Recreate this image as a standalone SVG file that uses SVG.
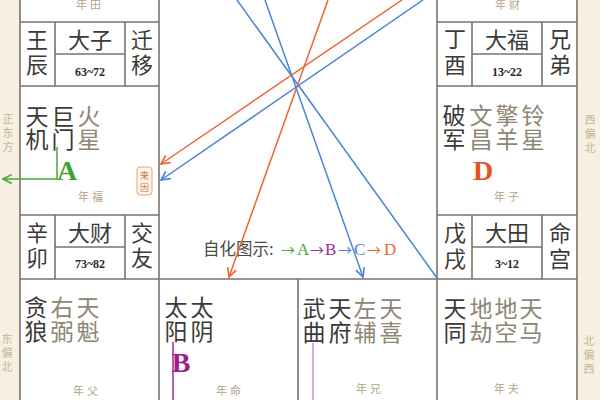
<svg xmlns="http://www.w3.org/2000/svg" width="600" height="400" viewBox="0 0 600 400">
<defs>
<style>
.grid{stroke:#77746a;stroke-width:1.6;fill:none}
.cj{font-family:"Noto Sans CJK SC","Noto Sans",sans-serif;text-anchor:middle}
.main{font-size:23px;fill:#3a3a38}
.sec{font-size:23px;fill:#8d8672}
.box{font-size:22px;fill:#3a3a38}
.num{font-family:"Liberation Serif",serif;font-weight:bold;font-size:12px;fill:#2a2a2a;text-anchor:middle}
.lab{font-size:11px;fill:#b3a488;letter-spacing:3px}
.dir{font-size:11px;fill:#c6b596}
.big{font-family:"Liberation Serif",serif;font-weight:bold;font-size:28px;text-anchor:middle}
.blue{stroke:#4a84d6;stroke-width:1.5;fill:none}
.orange{stroke:#ea6530;stroke-width:1.5;fill:none}
.arr{font-family:"Noto Sans CJK SC",sans-serif;font-size:14px}
.let{font-family:"Liberation Serif",serif;font-size:17px}
</style>
<marker id="ab" viewBox="0 0 10 10" refX="9" refY="5" markerWidth="11" markerHeight="11" markerUnits="userSpaceOnUse" orient="auto"><path d="M1,1 L9,5 L1,9" fill="none" stroke="#4a84d6" stroke-width="1.5"/></marker>
<marker id="ao" viewBox="0 0 10 10" refX="9" refY="5" markerWidth="11" markerHeight="11" markerUnits="userSpaceOnUse" orient="auto"><path d="M1,1 L9,5 L1,9" fill="none" stroke="#ea6530" stroke-width="1.5"/></marker>
<marker id="ag" viewBox="0 0 10 10" refX="9" refY="5" markerWidth="11" markerHeight="11" markerUnits="userSpaceOnUse" orient="auto"><path d="M1,1 L9,5 L1,9" fill="none" stroke="#4aa83a" stroke-width="1.5"/></marker>
</defs>
<rect x="0" y="0" width="600" height="400" fill="#f6efe2"/>
<rect x="20" y="0" width="557" height="400" fill="#ffffff"/>

<g id="grid">
<path class="grid" d="M20,0V400M159,0V400M437,0V400M577,0V400M298,279V400"/>
<path class="grid" d="M20,22H159M437,22H577M20,86H159M437,86H577M20,215H159M437,215H577M20,279H577"/>
<path class="grid" d="M55,22V86M125,22V86M55,215V279M125,215V279M472,22V86M542,22V86M472,215V279M542,215V279"/>
<path class="grid" d="M55,54H125M472,54H542M55,247H125M472,247H542"/>
</g>

<g id="directions" class="cj dir">
<text x="8" y="123">正</text><text x="8" y="137">东</text><text x="8" y="151">方</text>
<text x="7" y="343">东</text><text x="7" y="357">偏</text><text x="7" y="371">北</text>
<text x="590" y="124">西</text><text x="590" y="138">偏</text><text x="590" y="152">北</text>
<text x="589" y="345">北</text><text x="589" y="359">偏</text><text x="589" y="373">西</text>
</g>

<g id="palace-tian">
<text class="cj lab" x="90" y="9">年田</text>
<text class="cj box" x="37" y="48">王</text><text class="cj box" x="37" y="73">辰</text>
<text class="cj box" x="90" y="48">大子</text>
<text class="num" x="90" y="76">63~72</text>
<text class="cj box" x="142" y="48">迁</text><text class="cj box" x="142" y="73">移</text>
</g>

<g id="palace-cai">
<text class="cj lab" x="509" y="9">年财</text>
<text class="cj box" x="455" y="47">丁</text><text class="cj box" x="455" y="73">酉</text>
<text class="cj box" x="507" y="48">大福</text>
<text class="num" x="507" y="76">13~22</text>
<text class="cj box" x="560" y="47">兄</text><text class="cj box" x="560" y="73">弟</text>
</g>

<g id="palace-fu">
<text class="cj main" x="37" y="125">天</text><text class="cj main" x="37" y="148">机</text>
<text class="cj main" x="63" y="125">巨</text><text class="cj main" x="63" y="148">门</text>
<text class="cj sec" x="89" y="125">火</text><text class="cj sec" x="89" y="148">星</text>
<text class="big" x="67" y="180" fill="#3fa52e">A</text>
<rect x="137" y="167" width="15" height="28" rx="3" fill="#fdf4ec" stroke="#e3a47e" stroke-width="1"/>
<text class="cj" x="144.5" y="179" font-size="9" fill="#d07a4a">来</text>
<text class="cj" x="144.5" y="191" font-size="9" fill="#d07a4a">因</text>
<text class="cj lab" x="92" y="201">年福</text>
<text class="cj box" x="37" y="241">辛</text><text class="cj box" x="37" y="266">卯</text>
<text class="cj box" x="90" y="241">大财</text>
<text class="num" x="90" y="268">73~82</text>
<text class="cj box" x="142" y="241">交</text><text class="cj box" x="142" y="266">友</text>
</g>

<g id="palace-zi">
<text class="cj main" x="454" y="124">破</text><text class="cj main" x="454" y="148">军</text>
<text class="cj sec" x="481" y="124">文</text><text class="cj sec" x="481" y="148">昌</text>
<text class="cj sec" x="507" y="124">擎</text><text class="cj sec" x="507" y="148">羊</text>
<text class="cj sec" x="533" y="124">铃</text><text class="cj sec" x="533" y="148">星</text>
<text class="big" x="483" y="180" fill="#e8501e">D</text>
<text class="cj lab" x="508" y="201">年子</text>
<text class="cj box" x="455" y="241">戊</text><text class="cj box" x="455" y="267">戌</text>
<text class="cj box" x="507" y="241">大田</text>
<text class="num" x="507" y="268">3~12</text>
<text class="cj box" x="560" y="241">命</text><text class="cj box" x="560" y="267">宫</text>
</g>

<g id="palace-father">
<text class="cj main" x="36" y="316">贪</text><text class="cj main" x="36" y="340">狼</text>
<text class="cj sec" x="62" y="316">右</text><text class="cj sec" x="62" y="340">弼</text>
<text class="cj sec" x="88" y="316">天</text><text class="cj sec" x="88" y="340">魁</text>
<text class="cj lab" x="87" y="395">年父</text>
</g>

<g id="palace-ming">
<text class="cj main" x="176" y="316">太</text><text class="cj main" x="176" y="340">阳</text>
<text class="cj main" x="202" y="316">太</text><text class="cj main" x="202" y="340">阴</text>
<text class="big" x="181" y="372" fill="#9c1e8e">B</text>
<text class="cj lab" x="230" y="395">年命</text>
</g>

<g id="palace-xiong">
<text class="cj main" x="314" y="317">武</text><text class="cj main" x="314" y="341">曲</text>
<text class="cj main" x="340" y="317">天</text><text class="cj main" x="340" y="341">府</text>
<text class="cj sec" x="365" y="317">左</text><text class="cj sec" x="365" y="341">辅</text>
<text class="cj sec" x="391" y="317">天</text><text class="cj sec" x="391" y="341">喜</text>
<text class="cj lab" x="370" y="393">年兄</text>
</g>

<g id="palace-fuqi">
<text class="cj main" x="455" y="317">天</text><text class="cj main" x="455" y="341">同</text>
<text class="cj sec" x="481" y="317">地</text><text class="cj sec" x="481" y="341">劫</text>
<text class="cj sec" x="506" y="317">地</text><text class="cj sec" x="506" y="341">空</text>
<text class="cj sec" x="531" y="317">天</text><text class="cj sec" x="531" y="341">马</text>
<text class="cj lab" x="508" y="393">年夫</text>
</g>

<g id="legend">
<text x="203" y="255" font-family="Noto Sans CJK SC,sans-serif" font-size="16.5" fill="#4a4a46">自化图示:</text>
<text y="255"><tspan class="arr" x="281" fill="#4aa83a">→</tspan><tspan class="let" x="297" fill="#4aa83a">A</tspan><tspan class="arr" x="310" fill="#a0289a">→</tspan><tspan class="let" x="325" fill="#a0289a">B</tspan><tspan class="arr" x="338" fill="#4a84d6">→</tspan><tspan class="let" x="354" fill="#4a84d6">C</tspan><tspan class="arr" x="367" fill="#ea6530">→</tspan><tspan class="let" x="384" fill="#ea6530">D</tspan></text>
</g>

<g id="connectors">
<path class="blue" d="M237,0L437,278"/>
<path class="blue" d="M265,0L363,277" marker-end="url(#ab)"/>
<path class="orange" d="M328,0L229,277" marker-end="url(#ao)"/>
<path class="orange" d="M402,0L161,164" marker-end="url(#ao)"/>
<path class="blue" d="M423,0L161,180" marker-end="url(#ab)"/>
<path d="M57,147V179H3" fill="none" stroke="#4aa83a" stroke-width="1.5" marker-end="url(#ag)"/>
<path d="M173,342V400" stroke="#a0289a" stroke-width="1.5"/>
<path d="M313,343V400" stroke="#c890d2" stroke-width="1.5"/>
</g>
</svg>
